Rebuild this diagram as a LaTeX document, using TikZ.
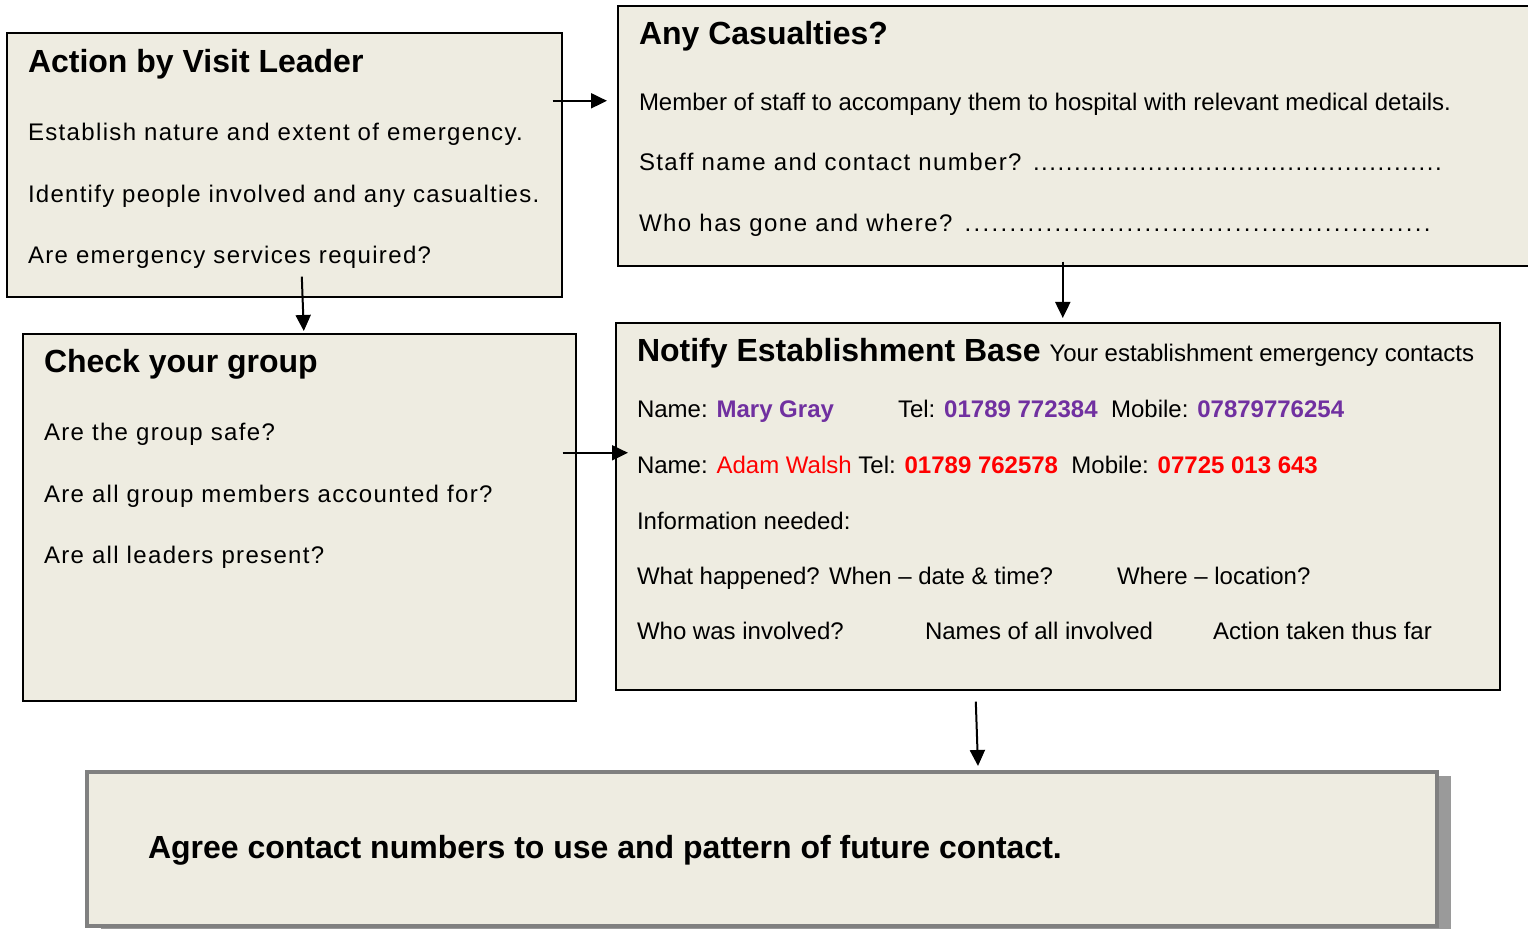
\documentclass[tikz,border=0pt]{standalone}
\usepackage{fontspec}
\setmainfont{Liberation Sans}
\usepackage{xcolor}
\usepackage{tikz}
\usetikzlibrary{arrows.meta,shadows}

\definecolor{boxfill}{HTML}{EEECE1}
\definecolor{agreeline}{HTML}{808080}
\definecolor{agreeshadow}{HTML}{9A9A9A}
\definecolor{namepurple}{HTML}{7030A0}
\definecolor{namered}{HTML}{FF0000}

\newcommand\dotrow[2]{\foreach \d in {1,...,#2}{\hbox to #1{\hss.\hss}}}
\newcommand\wide[1][5.6]{\addfontfeature{LetterSpace=#1}}

\begin{document}
\begin{tikzpicture}[x=0.5pt,y=-0.5pt,->,>={Triangle[length=8pt,width=7.5pt]},line width=1pt,
    box/.style={draw,line width=0.8pt,fill=boxfill,inner sep=0pt,anchor=north west},
    head/.style={anchor=base west,inner sep=0pt,font=\fontsize{16}{19}\selectfont\bfseries},
    txt/.style={anchor=base west,inner sep=0pt,font=\fontsize{12}{14}\selectfont}]
  \useasboundingbox (0,0) rectangle (1528,929);

  % the five boxes
  \node[box,minimum width=277.5pt,minimum height=132pt] (lead) at (6,32) {};
  \node[box,minimum width=461.5pt,minimum height=130pt] (cas) at (617,5) {};
  \node[box,minimum width=276.5pt,minimum height=183.5pt] (grp) at (22,333) {};
  \node[box,minimum width=442pt,minimum height=183.5pt] (base) at (615,322) {};
  \node[box,draw=agreeline,line width=2pt,minimum width=675pt,minimum height=77pt,
    drop shadow={shadow xshift=7pt,shadow yshift=-2pt,fill=agreeshadow,opacity=1}] (agree) at (85,770) {};

  % visit leader
  \node[head] (leadt) at (27,73) {Action by Visit Leader};
  \node[txt] (lead1) at (27,141) {\wide Establish nature and extent of emergency.};
  \node[txt] (lead2) at (27,203) {\wide[5.3] Identify people involved and any casualties.};
  \node[txt] (lead3) at (27,264) {\wide Are emergency services required?};

  % casualties
  \node[head] (cast) at (638,45) {Any Casualties?};
  \node[txt] (cas1) at (638,111) {Member of staff to accompany them to hospital with relevant medical details.};
  \node[txt] (cas2) at (638,171) {\wide[5.8] Staff name and contact number? \dotrow{4.1pt}{50}};
  \node[txt] (cas3) at (638,232) {\wide[6.2] Who has gone and where? \dotrow{4.5pt}{52}};

  % group
  \node[head] (grpt) at (43,373) {Check your group};
  \node[txt] (grp1) at (43,441) {\wide Are the group safe?};
  \node[txt] (grp2) at (43,503) {\wide Are all group members accounted for?};
  \node[txt] (grp3) at (43,564) {\wide Are all leaders present?};

  % establishment base
  \node[txt] (baset) at (636,362) {{\fontsize{16}{19}\selectfont\bfseries Notify Establishment Base }Your establishment emergency contacts};
  \node[txt] (base1) at (636,418) {Name: \textbf{\color{namepurple}Mary Gray}};
  \node[txt] (base2) at (897,418) {Tel: \textbf{\color{namepurple}01789 772384}~ Mobile: \textbf{\color{namepurple}07879776254}};
  \node[txt] (base3) at (636,474) {Name: {\color{namered}Adam Walsh} Tel: \textbf{\color{namered}01789 762578}~ Mobile: \textbf{\color{namered}07725 013 643}};
  \node[txt] (base4) at (636,530) {Information needed:};
  \node[txt] (base5) at (636,585) {What happened?};
  \node[txt] (base6) at (828,585) {When -- date \& time?};
  \node[txt] (base7) at (1116,585) {Where -- location?};
  \node[txt] (base8) at (636,640) {Who was involved?};
  \node[txt] (base9) at (924,640) {Names of all involved};
  \node[txt] (base10) at (1212,640) {Action taken thus far};

  % agree
  \node[anchor=base west,inner sep=0pt,font=\fontsize{16}{19}\selectfont\bfseries] (agreet) at (147,859)
    {Agree contact numbers to use and pattern of future contact.};

  \draw ([shift={(-5pt,32pt)}]lead.east) -- ([shift={(-5pt,17.5pt)}]cas.west);
  \draw ([shift={(8.75pt,10.5pt)}]lead.south) -- ([shift={(2.25pt,1pt)}]grp.north);
  \draw ([shift={(-8.25pt,2.5pt)}]cas.south) -- ([shift={(2.5pt,2pt)}]base.north);
  \draw ([shift={(-7pt,32.25pt)}]grp.east) -- ([shift={(6.5pt,26.75pt)}]base.west);
  \draw ([shift={(-41pt,-5.5pt)}]base.south) -- ([shift={(108pt,2pt)}]agree.north);
\end{tikzpicture}
\end{document}
